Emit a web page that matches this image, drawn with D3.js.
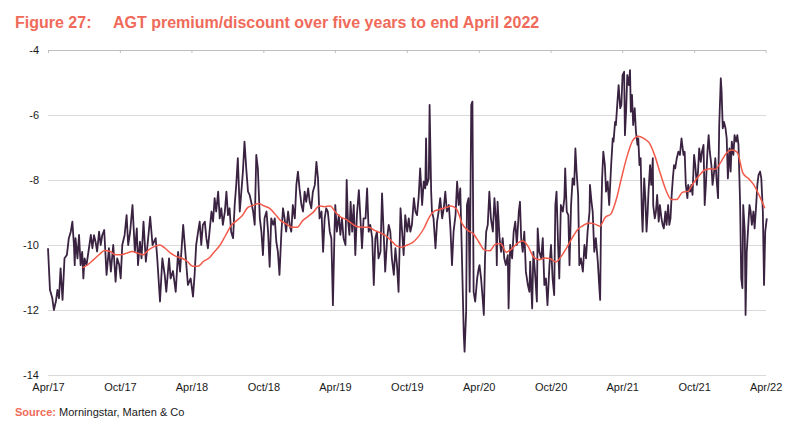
<!DOCTYPE html>
<html>
<head>
<meta charset="utf-8">
<script src="https://cdn.jsdelivr.net/npm/d3@7"></script>
<style>
  html, body { margin: 0; padding: 0; background: #fff; }
  svg { display: block; font-family: Arial, "Liberation Sans", sans-serif; }
</style>
</head>
<body>
<svg id="chart" width="799" height="429"></svg>
<script>
// ---------- DATA ----------
const startDate = "2017-04-28";   // day 0
const endDate = "2022-04-29";
// AGT premium/discount (%): [days since startDate, value]
const premiumDiscount = [
  [0,-10.1],[5,-11.38],[11,-11.64],[15,-12.0],[20,-11.74],[24,-11.38],[28,-11.64],[32,-10.72],[37,-11.69],[42,-10.41],
  [48,-10.31],[53,-9.79],[58,-9.59],[62,-9.28],[66,-10.0],[68,-10.62],[70,-9.79],[75,-10.41],[79,-9.69],[83,-10.62],
  [87,-10.21],[90,-11.03],[93,-10.41],[98,-10.62],[103,-10.2],[109,-9.69],[113,-10.1],[117,-9.7],[121,-9.9],[125,-10.2],
  [130,-9.59],[134,-10.0],[138,-9.7],[143,-9.54],[149,-10.92],[155,-10.1],[160,-10.82],[166,-10.0],[172,-11.13],[176,-10.41],
  [181,-10.6],[185,-11.03],[189,-10.0],[195,-9.69],[200,-9.08],[204,-10.0],[209,-9.6],[215,-8.77],[221,-10.21],[226,-9.49],
  [229,-10.62],[234,-9.9],[238,-10.41],[243,-9.28],[249,-10.51],[254,-9.9],[260,-9.13],[266,-10.0],[274,-9.79],[278,-10.41],
  [285,-11.74],[291,-10.41],[297,-10.92],[301,-11.44],[308,-10.41],[312,-11.03],[318,-10.8],[325,-11.44],[331,-10.21],[336,-10.82],
  [344,-9.38],[350,-10.3],[356,-11.23],[363,-11.03],[369,-11.59],[373,-10.92],[377,-10.0],[382,-9.59],[386,-9.28],[390,-10.0],
  [394,-9.38],[399,-9.28],[403,-9.79],[407,-10.1],[411,-9.59],[416,-8.97],[420,-9.28],[424,-8.56],[428,-8.97],[433,-8.36],
  [437,-9.18],[441,-8.87],[445,-9.38],[450,-8.97],[454,-8.36],[458,-9.08],[462,-8.87],[466,-9.59],[471,-9.79],[475,-8.77],
  [479,-8.15],[483,-7.33],[488,-8.97],[492,-8.36],[496,-7.74],[500,-6.82],[505,-7.74],[509,-8.36],[513,-8.46],[517,-8.67],
  [522,-8.97],[526,-9.38],[530,-7.23],[534,-7.64],[539,-9.18],[543,-9.59],[547,-10.31],[551,-9.18],[556,-8.97],[560,-9.59],
  [564,-10.67],[568,-9.18],[573,-9.38],[577,-9.18],[581,-9.9],[585,-10.21],[589,-10.92],[594,-9.59],[598,-8.87],[602,-9.18],
  [606,-9.59],[611,-8.97],[615,-9.38],[619,-9.59],[623,-8.77],[628,-9.18],[632,-8.15],[636,-7.74],[640,-8.26],[645,-8.77],
  [649,-8.97],[653,-8.36],[657,-8.67],[662,-8.26],[666,-8.67],[670,-8.87],[674,-8.36],[679,-8.15],[683,-7.44],[687,-7.95],
  [691,-9.18],[696,-8.97],[700,-10.21],[704,-9.18],[708,-8.87],[712,-8.97],[717,-9.59],[721,-9.79],[725,-11.85],[729,-9.59],
  [731,-8.77],[735,-9.59],[740,-9.08],[744,-9.69],[748,-9.18],[752,-9.79],[757,-10.0],[760,-8.0],[763,-9.18],[767,-9.69],
  [770,-8.67],[774,-9.59],[778,-8.77],[782,-10.31],[786,-9.08],[791,-8.31],[795,-9.18],[799,-10.1],[803,-9.18],[808,-9.18],
  [812,-8.26],[816,-9.59],[820,-9.38],[825,-9.79],[829,-11.23],[833,-9.79],[837,-9.59],[841,-10.41],[846,-10.21],[850,-8.41],
  [854,-9.59],[858,-10.82],[863,-9.79],[867,-9.38],[871,-9.59],[875,-10.41],[880,-10.92],[884,-10.1],[888,-10.62],[892,-11.44],
  [897,-8.87],[901,-9.59],[905,-10.31],[909,-9.08],[914,-9.59],[918,-9.18],[922,-9.59],[926,-9.38],[931,-8.56],[935,-8.97],
  [939,-9.08],[943,-8.56],[947,-7.64],[952,-8.77],[956,-8.05],[960,-8.26],[962,-6.72],[964,-8.15],[969,-7.95],[971,-5.69],
  [975,-8.36],[977,-8.97],[981,-9.18],[986,-10.1],[990,-9.28],[994,-8.97],[998,-8.56],[1003,-9.18],[1007,-8.87],[1011,-8.36],
  [1015,-8.97],[1020,-8.77],[1024,-9.49],[1028,-10.62],[1032,-9.59],[1037,-9.08],[1041,-8.05],[1045,-8.77],[1049,-8.26],[1053,-10.21],
  [1058,-12.77],[1060,-13.28],[1064,-12.05],[1066,-8.77],[1070,-8.56],[1073,-11.44],[1077,-5.69],[1080,-5.59],[1083,-11.44],[1087,-11.74],
  [1092,-11.03],[1096,-10.72],[1098,-10.62],[1102,-11.03],[1106,-11.64],[1109,-12.15],[1112,-10.41],[1115,-9.59],[1119,-9.38],[1123,-8.36],
  [1127,-9.18],[1132,-9.59],[1136,-8.56],[1140,-9.28],[1142,-10.62],[1144,-8.67],[1149,-9.79],[1153,-10.21],[1157,-9.79],[1161,-10.41],
  [1165,-10.62],[1170,-10.31],[1172,-11.95],[1176,-10.0],[1181,-10.41],[1185,-9.59],[1189,-9.28],[1193,-10.0],[1198,-8.97],[1201,-8.67],
  [1204,-9.79],[1208,-10.21],[1212,-9.59],[1216,-10.82],[1221,-11.23],[1225,-11.44],[1227,-10.51],[1232,-11.95],[1235,-10.21],[1239,-10.82],
  [1244,-11.74],[1246,-9.49],[1250,-10.21],[1255,-10.41],[1259,-9.79],[1263,-11.23],[1267,-11.03],[1271,-11.85],[1276,-10.62],[1280,-10.0],
  [1284,-11.03],[1288,-11.54],[1291,-8.77],[1294,-8.36],[1298,-10.0],[1301,-11.03],[1305,-8.77],[1310,-8.97],[1314,-8.56],[1316,-7.64],
  [1320,-8.97],[1324,-9.08],[1327,-10.62],[1331,-8.77],[1335,-7.95],[1339,-8.15],[1342,-7.03],[1345,-7.74],[1349,-8.46],[1352,-10.62],
  [1356,-10.41],[1361,-10.82],[1365,-10.0],[1369,-10.41],[1373,-9.59],[1378,-8.97],[1379,-8.15],[1383,-8.67],[1386,-8.97],[1390,-10.21],
  [1394,-9.79],[1399,-10.51],[1403,-11.33],[1405,-11.69],[1407,-9.49],[1410,-7.95],[1413,-7.13],[1417,-7.54],[1420,-8.36],[1424,-8.05],
  [1428,-8.77],[1433,-7.54],[1437,-6.72],[1439,-6.82],[1443,-6.21],[1445,-6.31],[1449,-5.59],[1452,-5.08],[1456,-5.79],[1459,-5.69],
  [1462,-4.77],[1466,-4.67],[1468,-6.62],[1471,-5.9],[1474,-4.77],[1478,-5.08],[1481,-4.62],[1483,-5.9],[1486,-5.38],[1489,-6.31],
  [1493,-5.79],[1496,-6.51],[1500,-6.92],[1502,-6.72],[1505,-7.54],[1508,-7.33],[1511,-8.97],[1513,-9.59],[1517,-7.95],[1520,-8.56],
  [1523,-9.59],[1526,-8.97],[1528,-8.36],[1532,-7.54],[1535,-8.15],[1539,-7.33],[1540,-8.77],[1544,-9.18],[1547,-8.97],[1550,-8.46],
  [1554,-9.28],[1557,-8.77],[1561,-9.18],[1564,-9.38],[1567,-9.49],[1571,-8.97],[1574,-9.38],[1578,-8.77],[1581,-9.38],[1584,-9.18],
  [1587,-8.46],[1590,-7.95],[1593,-7.54],[1596,-7.64],[1600,-7.33],[1604,-7.13],[1608,-7.23],[1612,-6.72],[1617,-7.23],[1620,-7.13],
  [1623,-8.15],[1627,-8.56],[1629,-8.15],[1634,-8.36],[1637,-8.15],[1640,-8.46],[1644,-7.23],[1647,-7.54],[1651,-8.15],[1654,-7.74],
  [1657,-7.03],[1661,-7.44],[1664,-7.13],[1668,-6.92],[1671,-8.77],[1674,-8.15],[1678,-7.13],[1681,-6.62],[1684,-7.13],[1688,-7.54],
  [1691,-8.15],[1695,-7.74],[1698,-7.33],[1701,-7.95],[1705,-8.56],[1708,-6.31],[1712,-4.87],[1714,-5.28],[1717,-6.41],[1720,-6.21],
  [1724,-6.41],[1727,-6.72],[1730,-7.95],[1734,-7.03],[1737,-7.74],[1740,-6.82],[1744,-7.23],[1747,-6.62],[1751,-6.82],[1754,-6.62],
  [1757,-6.92],[1761,-8.67],[1764,-11.03],[1767,-11.33],[1769,-8.77],[1773,-9.59],[1775,-12.15],[1778,-10.21],[1781,-9.59],[1785,-8.77],
  [1788,-8.97],[1791,-9.38],[1795,-8.97],[1798,-9.49],[1802,-8.77],[1805,-8.15],[1808,-7.85],[1812,-7.74],[1815,-7.95],[1819,-8.97],
  [1822,-11.23],[1825,-9.59],[1829,-9.18]
];
// Moving average (%), one value every 14 days starting at day 88
const maStartDay = 88;
const maStepDays = 14;
const movingAverage = [
  -10.7,-10.6,-10.45,-10.3,-10.17,-10.2,-10.3,-10.3,-10.25,-10.2,
  -10.25,-10.3,-10.15,-10.05,-10.0,-10.1,-10.25,-10.35,-10.4,-10.5,
  -10.65,-10.65,-10.5,-10.4,-10.2,-10.0,-9.7,-9.4,-9.25,-9.1,
  -8.85,-8.78,-8.72,-8.8,-8.87,-9.05,-9.25,-9.35,-9.45,-9.45,
  -9.25,-9.12,-8.98,-8.8,-8.82,-8.8,-9.0,-9.15,-9.22,-9.35,
  -9.44,-9.45,-9.45,-9.54,-9.62,-9.7,-9.85,-10.02,-10.07,-10.0,
  -9.92,-9.75,-9.5,-9.15,-8.95,-8.9,-8.85,-8.8,-8.9,-9.35,
  -9.55,-9.65,-9.9,-10.15,-10.18,-9.98,-9.95,-10.22,-10.12,-9.95,
  -9.88,-10.05,-10.38,-10.45,-10.4,-10.42,-10.52,-10.35,-10.08,-9.78,
  -9.52,-9.4,-9.32,-9.35,-9.42,-9.15,-9.05,-8.6,-7.9,-7.25,
  -6.78,-6.65,-6.72,-6.86,-7.25,-7.8,-8.3,-8.6,-8.6,-8.38,
  -8.35,-8.1,-7.88,-7.7,-7.65,-7.67,-7.45,-7.18,-7.08,-7.15,
  -7.78,-7.95,-8.15,-8.48,-8.87
];
const yTicks = [-4, -6, -8, -10, -12, -14];
const xTickLabels = ["Apr/17","Oct/17","Apr/18","Oct/18","Apr/19","Oct/19","Apr/20","Oct/20","Apr/21","Oct/21","Apr/22"];
const titleNumber = "Figure 27:";
const titleText = "AGT premium/discount over five years to end April 2022";
const sourceLabel = "Source:";
const sourceText = "Morningstar, Marten & Co";

// ---------- BUILD ----------
(function () {
const parse = d3.utcParse("%Y-%m-%d");
const t0 = parse(startDate);
const dayDate = n => new Date(t0.getTime() + n * 86400000);
const series = premiumDiscount.map(([d, v]) => ({ date: dayDate(d), value: v }));
const maSeries = movingAverage.map((v, j) => ({ date: dayDate(maStartDay + j * maStepDays), value: v }));
const tickDates = xTickLabels.map((_, k) => d3.utcMonth.offset(t0, 6 * k));

const svg = d3.select("#chart");
const mLeft = 48, mRight = 766, mTop = 50, mBottom = 375;

const x = d3.scaleUtc().domain([t0, parse(endDate)]).range([mLeft, mRight]);
const y = d3.scaleLinear().domain([-14, -4]).range([mBottom, mTop]);

const salmon = "#f06a5a";
const fontFam = "Arial, 'Liberation Sans', sans-serif";

// Title
const title = svg.append("text").attr("x", 15).attr("y", 28)
  .attr("font-size", 16).attr("font-weight", "bold").attr("fill", salmon);
title.append("tspan").text(titleNumber);
title.append("tspan").attr("x", 113).text(titleText);

// Gridlines (y)
svg.append("g")
  .selectAll("line").data(yTicks.filter(d => d !== -4)).join("line")
  .attr("x1", mLeft).attr("x2", mRight)
  .attr("y1", d => Math.round(y(d)) + 0.5).attr("y2", d => Math.round(y(d)) + 0.5)
  .attr("stroke", "#d9d9d9").attr("stroke-width", 1);

// Top axis line with tick marks (category axis crossing at -4)
const topAxis = d3.axisBottom(x).tickValues(tickDates).tickSize(3).tickFormat("");
const gTop = svg.append("g").attr("transform", `translate(0,${y(-4)})`).call(topAxis);
gTop.select(".domain").attr("stroke", "#bfbfbf").attr("d", `M${mLeft},0.5H${mRight}`);
gTop.selectAll(".tick line").attr("stroke", "#bfbfbf");

// Y labels
const yAxis = d3.axisLeft(y).tickValues(yTicks).tickSize(0).tickPadding(0).tickFormat(d => String(d));
const gY = svg.append("g").attr("transform", `translate(39,0)`).call(yAxis);
gY.select(".domain").remove();
gY.selectAll("text").attr("font-size", 11).attr("fill", "#1a1a1a").attr("font-family", fontFam);

// X labels at the bottom
const xAxis = d3.axisBottom(x).tickValues(tickDates).tickSize(0).tickPadding(0)
  .tickFormat((d, i) => xTickLabels[i]);
const gX = svg.append("g").attr("transform", `translate(0,${mBottom + 8})`).call(xAxis);
gX.select(".domain").remove();
gX.selectAll("text").attr("font-size", 11).attr("fill", "#1a1a1a").attr("font-family", fontFam);

// Lines
const line = d3.line().x(d => x(d.date)).y(d => y(d.value));
svg.append("path").datum(series)
  .attr("fill", "none").attr("stroke", "#3a2341").attr("stroke-width", 1.8)
  .attr("stroke-linejoin", "round").attr("d", line);
svg.append("path").datum(maSeries)
  .attr("fill", "none").attr("stroke", "#f25a4a").attr("stroke-width", 1.5)
  .attr("stroke-linejoin", "round").attr("d", line.curve(d3.curveMonotoneX));

// Source
const src = svg.append("text").attr("x", 15).attr("y", 416).attr("font-size", 11).attr("font-family", fontFam);
src.append("tspan").attr("font-weight", "bold").attr("fill", salmon).text(sourceLabel);
src.append("tspan").attr("fill", "#1a1a1a").text(" " + sourceText);
})();
</script>
</body>
</html>
